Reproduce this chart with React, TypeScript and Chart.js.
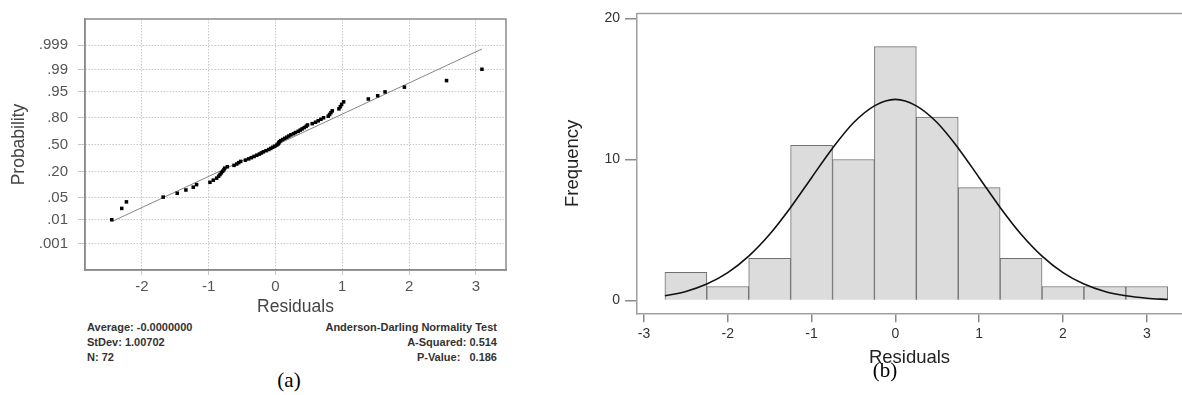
import React, { useEffect, useRef } from "react";
import { Chart, registerables } from "chart.js";

Chart.register(...registerables);

// ---------- Panel (a): normal probability plot ----------
const residuals = [
  -2.45, -2.3, -2.23, -1.68, -1.47, -1.34, -1.23, -1.18, -0.98, -0.93, -0.88, -0.85,
  -0.83, -0.81, -0.79, -0.77, -0.76, -0.72, -0.62, -0.58, -0.55, -0.52, -0.45, -0.4,
  -0.36, -0.32, -0.28, -0.24, -0.21, -0.18, -0.14, -0.1, -0.07, -0.04, -0.01, 0.02,
  0.04, 0.05, 0.06, 0.08, 0.11, 0.14, 0.17, 0.2, 0.23, 0.27, 0.3, 0.34,
  0.37, 0.4, 0.43, 0.46, 0.48, 0.55, 0.6, 0.64, 0.68, 0.72, 0.79, 0.81,
  0.83, 0.85, 0.95, 0.97, 0.99, 1.02, 1.39, 1.53, 1.64, 1.93, 2.56, 3.09,
];
// plotted probability (percent) of each residual
const plotProbPct = [
  0.97, 2.35, 3.73, 5.11, 6.49, 7.87, 9.25, 10.64, 12.02, 13.4, 14.78, 16.16,
  17.54, 18.92, 20.3, 21.69, 23.07, 24.45, 25.83, 27.21, 28.59, 29.97, 31.35, 32.73,
  34.12, 35.5, 36.88, 38.26, 39.64, 41.02, 42.4, 43.78, 45.17, 46.55, 47.93, 49.31,
  50.69, 52.07, 53.45, 54.83, 56.22, 57.6, 58.98, 60.36, 61.74, 63.12, 64.5, 65.88,
  67.27, 68.65, 70.03, 71.41, 72.79, 74.17, 75.55, 76.93, 78.31, 79.7, 81.08, 82.46,
  83.84, 85.22, 86.6, 87.98, 89.36, 90.75, 92.13, 93.51, 94.89, 96.27, 97.65, 99.03,
];
const fitResiduals = [-2.44, 3.09];
const fitProbPct = [0.85, 99.85];
const probTickValues = [0.001, 0.01, 0.05, 0.2, 0.5, 0.8, 0.95, 0.99, 0.999];
const probTickLabels = [".001", ".01", ".05", ".20", ".50", ".80", ".95", ".99", ".999"];
const statsLeft = ["Average: -0.0000000", "StDev: 1.00702", "N: 72"];
const statsRight = ["Anderson-Darling Normality Test", "A-Squared: 0.514", "P-Value:   0.186"];

// ---------- Panel (b): histogram with normal curve ----------
const binCenters = [-2.5, -2, -1.5, -1, -0.5, 0, 0.5, 1, 1.5, 2, 2.5, 3];
const binCounts = [2, 1, 3, 11, 10, 18, 13, 8, 3, 1, 1, 1];
const curveX = [
  -2.75, -2.5, -2.25, -2, -1.75, -1.5, -1.25, -1, -0.75, -0.5, -0.25, 0, 0.25,
  0.5, 0.75, 1, 1.25, 1.5, 1.75, 2, 2.25, 2.5, 2.75, 3, 3.25,
];
const curveY = [
  0.34, 0.65, 1.17, 1.98, 3.15, 4.7, 6.6, 8.71, 10.8, 12.6, 13.8, 14.26, 13.8,
  12.6, 10.8, 8.71, 6.6, 4.7, 3.15, 1.98, 1.17, 0.65, 0.34, 0.17, 0.08,
];
const freqTicks = [0, 10, 20];
const resTicks = [-3, -2, -1, 0, 1, 2, 3];

const SANS = "'Liberation Sans', Arial, sans-serif";

// inverse standard normal (probability-axis transform)
function probit(p: number): number {
  const a = [-3.969683028665376e1, 2.209460984245205e2, -2.759285104469687e2, 1.38357751867269e2, -3.066479806614716e1, 2.506628277459239];
  const b = [-5.447609879822406e1, 1.615858368580409e2, -1.556989798598866e2, 6.680131188771972e1, -1.328068155922803e1];
  const c = [-7.784894002430293e-3, -3.223964580411365e-1, -2.400758277161838, -2.549732539343734, 4.374664141464968, 2.938163982698783];
  const d = [7.784695709041462e-3, 3.224671290700398e-1, 2.445134137142996, 3.754408661907416];
  const plow = 0.02425;
  if (p < plow) {
    const q = Math.sqrt(-2 * Math.log(p));
    return (((((c[0] * q + c[1]) * q + c[2]) * q + c[3]) * q + c[4]) * q + c[5]) / ((((d[0] * q + d[1]) * q + d[2]) * q + d[3]) * q + 1);
  }
  if (p <= 1 - plow) {
    const q = p - 0.5;
    const r = q * q;
    return ((((((a[0] * r + a[1]) * r + a[2]) * r + a[3]) * r + a[4]) * r + a[5]) * q) / (((((b[0] * r + b[1]) * r + b[2]) * r + b[3]) * r + b[4]) * r + 1);
  }
  const q = Math.sqrt(-2 * Math.log(1 - p));
  return -(((((c[0] * q + c[1]) * q + c[2]) * q + c[3]) * q + c[4]) * q + c[5]) / ((((d[0] * q + d[1]) * q + d[2]) * q + d[3]) * q + 1);
}

const frameA = {
  id: "frameA",
  afterDraw(chart: any) {
    const { ctx, chartArea: ca } = chart;
    ctx.save();
    ctx.strokeStyle = "#8a8a8a";
    ctx.lineWidth = 1.5;
    ctx.strokeRect(ca.left, ca.top, ca.right - ca.left, ca.bottom - ca.top);
    ctx.restore();
  },
};

const topLineB = {
  id: "topLineB",
  afterDraw(chart: any) {
    const { ctx, chartArea: ca } = chart;
    ctx.save();
    ctx.strokeStyle = "#a0a0a0";
    ctx.lineWidth = 1.5;
    ctx.beginPath();
    ctx.moveTo(ca.left, ca.top);
    ctx.lineTo(ca.right, ca.top);
    ctx.stroke();
    ctx.restore();
  },
};

export default function App() {
  const refA = useRef<HTMLCanvasElement>(null);
  const refB = useRef<HTMLCanvasElement>(null);

  useEffect(() => {
    const points = residuals.map((r, i) => ({ x: r, y: probit(plotProbPct[i] / 100) }));
    const fit = fitResiduals.map((r, i) => ({ x: r, y: probit(fitProbPct[i] / 100) }));

    const chartA = new Chart(refA.current as HTMLCanvasElement, {
      type: "scatter",
      data: {
        datasets: [
          {
            data: fit,
            showLine: true,
            borderColor: "#858585",
            borderWidth: 1,
            pointRadius: 0,
            order: 2,
          } as any,
          {
            data: points,
            pointStyle: "rect",
            pointRadius: 2.5,
            backgroundColor: "#000",
            borderWidth: 0,
            order: 1,
          } as any,
        ],
      },
      options: {
        animation: false,
        responsive: false,
        layout: { padding: { top: 11, right: 14, bottom: 0, left: 0 } },
        plugins: { legend: { display: false }, tooltip: { enabled: false } },
        scales: {
          x: {
            type: "linear",
            min: -2.85,
            max: 3.45,
            afterFit: (s: any) => { s.height = 50; },
            afterBuildTicks: (s: any) => { s.ticks = resTicks.filter((t) => t >= -2).map((v) => ({ value: v })); },
            ticks: { font: { family: SANS, size: 15 }, color: "#555", padding: 3, callback: (v: any) => String(v) },
            grid: { color: "#c8c8c8", lineWidth: 1, tickLength: 5 },
            border: { display: true, color: "#8a8a8a", width: 1.5, dash: [1.5, 1.5] },
            title: { display: true, text: "Residuals", color: "#444", font: { family: SANS, size: 17.5 }, padding: { top: 0, bottom: 2 } },
          },
          y: {
            type: "linear",
            min: -3.9,
            max: 3.9,
            afterFit: (s: any) => { s.width = 85; },
            afterBuildTicks: (s: any) => { s.ticks = probTickValues.map((p) => ({ value: probit(p) })); },
            ticks: { font: { family: SANS, size: 15 }, color: "#555", padding: 10, callback: (_v: any, i: number) => probTickLabels[i] },
            grid: { color: "#c8c8c8", lineWidth: 1, tickLength: 7 },
            border: { display: true, color: "#8a8a8a", width: 1.5, dash: [1.5, 1.5] },
            title: { display: true, text: "Probability", color: "#444", font: { family: SANS, size: 17.5 }, padding: { top: 9, bottom: 0 } },
          },
        },
      },
      plugins: [frameA],
    });

    const bars = binCenters.map((x, i) => ({ x, y: binCounts[i] }));
    const curve = curveX.map((x, i) => ({ x, y: curveY[i] }));

    const chartB = new Chart(refB.current as HTMLCanvasElement, {
      type: "bar",
      data: {
        datasets: [
          {
            type: "line",
            data: curve,
            borderColor: "#111",
            borderWidth: 1.6,
            pointRadius: 0,
            cubicInterpolationMode: "monotone",
            fill: false,
            order: 1,
          } as any,
          {
            type: "bar",
            data: bars,
            backgroundColor: "#dcdcdc",
            borderColor: "#707070",
            borderWidth: 1,
            barPercentage: 1,
            categoryPercentage: 1,
            order: 2,
          } as any,
        ],
      },
      options: {
        animation: false,
        responsive: false,
        layout: { padding: { top: 13.3, right: 0, bottom: 0, left: 0 } },
        plugins: { legend: { display: false }, tooltip: { enabled: false } },
        scales: {
          x: {
            type: "linear",
            min: -3.083,
            max: 3.42,
            offset: false,
            afterFit: (s: any) => { s.height = 56.7; },
            afterBuildTicks: (s: any) => { s.ticks = resTicks.map((v) => ({ value: v })); },
            ticks: { font: { family: SANS, size: 14 }, color: "#333", padding: 3, callback: (v: any) => String(v) },
            grid: { drawOnChartArea: false, color: "#8a8a8a", lineWidth: 1.5, tickLength: 9, offset: false },
            border: { display: true, color: "#a0a0a0", width: 1.5 },
            title: { display: true, text: "Residuals", color: "#222", font: { family: SANS, size: 18.5 }, padding: { top: 0, bottom: 1 } },
          },
          y: {
            type: "linear",
            min: -0.9,
            max: 20.35,
            afterFit: (s: any) => { s.width = 97; },
            afterBuildTicks: (s: any) => { s.ticks = freqTicks.map((v) => ({ value: v })); },
            ticks: { font: { family: SANS, size: 14 }, color: "#333", padding: 5, callback: (v: any) => String(v) },
            grid: { drawOnChartArea: false, color: "#8a8a8a", lineWidth: 1.5, tickLength: 12 },
            border: { display: true, color: "#a0a0a0", width: 1.5 },
            title: { display: true, text: "Frequency", color: "#222", font: { family: SANS, size: 18.5 }, padding: { top: 22, bottom: 0 } },
          },
        },
      },
      plugins: [topLineB],
    });

    return () => {
      chartA.destroy();
      chartB.destroy();
    };
  }, []);

  const statStyle: React.CSSProperties = {
    position: "absolute",
    top: 320,
    fontFamily: SANS,
    fontSize: 11,
    fontWeight: "bold",
    lineHeight: "15px",
    color: "#333",
    whiteSpace: "pre",
  };
  const capStyle: React.CSSProperties = {
    position: "absolute",
    fontFamily: "'Liberation Serif', 'Times New Roman', serif",
    fontSize: 21,
    lineHeight: "22px",
    color: "#000",
    width: 60,
    textAlign: "center",
  };

  return (
    <div style={{ position: "relative", width: 1182, height: 395, background: "#fff", overflow: "hidden" }}>
      <style>{"body{margin:0}"}</style>
      <canvas ref={refA} width={520} height={320} style={{ position: "absolute", left: 0, top: 0, width: 520, height: 320 }} />
      <canvas ref={refB} width={642} height={370} style={{ position: "absolute", left: 540, top: 0, width: 642, height: 370 }} />
      <div style={{ ...statStyle, left: 87, textAlign: "left" }}>
        {statsLeft.map((t) => (<div key={t}>{t}</div>))}
      </div>
      <div style={{ ...statStyle, left: 297, width: 200, textAlign: "right" }}>
        {statsRight.map((t) => (<div key={t}>{t}</div>))}
      </div>
      <div style={{ ...capStyle, left: 259, top: 369 }}>(a)</div>
      <div style={{ ...capStyle, left: 855, top: 359 }}>(b)</div>
    </div>
  );
}
